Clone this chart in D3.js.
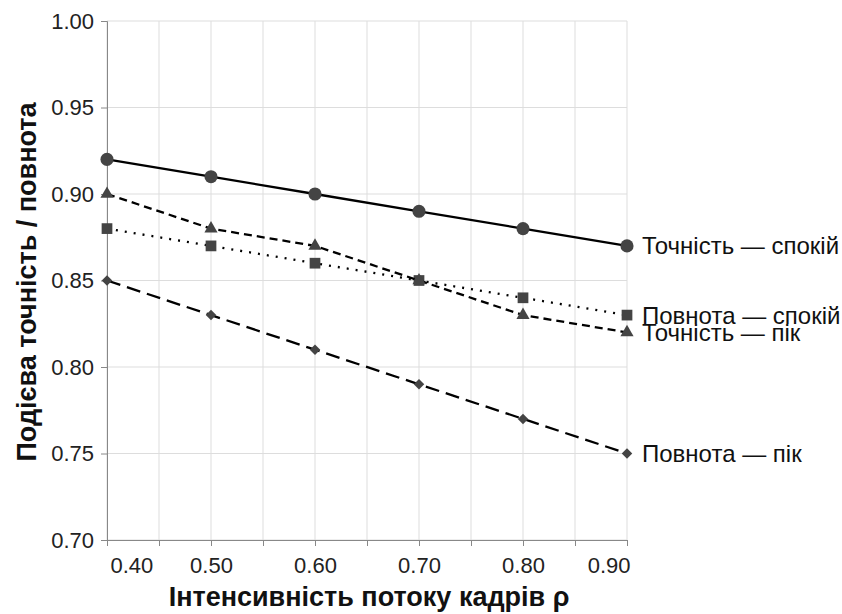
<!DOCTYPE html>
<html>
<head>
<meta charset="utf-8">
<script src="https://cdn.jsdelivr.net/npm/d3@7"></script>
<style>
  body { margin: 0; background: #fff; }
  svg { font-family: "Liberation Sans", Arial, sans-serif; }
</style>
</head>
<body>
<svg id="chart" width="842" height="614"></svg>
<script>
// Frame rate levels (ρ)
const rho = [0.40, 0.50, 0.60, 0.70, 0.80, 0.90];

// Series values
const precisionCalm = [0.92, 0.91, 0.90, 0.89, 0.88, 0.87];
const precisionPeak = [0.90, 0.88, 0.87, 0.85, 0.83, 0.82];
const recallCalm    = [0.88, 0.87, 0.86, 0.85, 0.84, 0.83];
const recallPeak    = [0.85, 0.83, 0.81, 0.79, 0.77, 0.75];

const seriesNames = ["Точність — спокій", "Повнота — спокій", "Точність — пік", "Повнота — пік"];
const xTickLabels = ["0.40", "0.50", "0.60", "0.70", "0.80", "0.90"];
const yTickLabels = ["0.70", "0.75", "0.80", "0.85", "0.90", "0.95", "1.00"];

const series = [
  { name: seriesNames[0], values: precisionCalm, symbol: d3.symbolCircle,   size: 135, rot: 0,  dash: null },
  { name: seriesNames[1], values: recallCalm,    symbol: d3.symbolSquare,   size: 115, rot: 0,  dash: "2,7" },
  { name: seriesNames[2], values: precisionPeak, symbol: d3.symbolTriangle, size: 75,  rot: 0,  dash: "8,5" },
  { name: seriesNames[3], values: recallPeak,    symbol: d3.symbolSquare,   size: 55,  rot: 45, dash: "14,7" }
];

const svg = d3.select("#chart");
const m = { left: 107, right: 627, top: 21, bottom: 540 };

const x = d3.scaleLinear().domain([0.4, 0.9]).range([m.left, m.right]);
const y = d3.scaleLinear().domain([0.7, 1.0]).range([m.bottom, m.top]);

const xGrid = d3.range(0.40, 0.9001, 0.05);
const yGrid = yTickLabels.map(Number);

// grid
const g = svg.append("g");
g.selectAll(".vg").data(xGrid).join("line")
  .attr("x1", d => x(d)).attr("x2", d => x(d))
  .attr("y1", m.top).attr("y2", m.bottom)
  .attr("stroke", "#ddd").attr("stroke-width", 1);
g.selectAll(".hg").data(yGrid).join("line")
  .attr("x1", m.left).attr("x2", m.right)
  .attr("y1", d => y(d)).attr("y2", d => y(d))
  .attr("stroke", "#ddd").attr("stroke-width", 1);

// x axis
const xAxis = d3.axisBottom(x).tickValues(xGrid).tickSize(6)
  .tickFormat(d => {
    const s = d3.format(".2f")(d);
    return xTickLabels.includes(s) ? s : "";
  });
const xa = svg.append("g").attr("transform", `translate(0,${m.bottom})`).call(xAxis);
xa.select(".domain").attr("stroke", "#888");
xa.selectAll(".tick line").attr("stroke", "#888");
xa.selectAll(".tick text")
  .attr("font-size", 22).attr("fill", "#222").attr("y", 33).attr("dy", 0)
  .attr("text-anchor", (d, i, n) => i === 0 ? "start" : (i === n.length - 1 ? "end" : "middle"))
  .attr("dx", (d, i, n) => i === 0 ? 3 : (i === n.length - 1 ? 3 : 0));

// y axis
const yAxis = d3.axisLeft(y).tickValues(yGrid).tickSize(6).tickFormat(d3.format(".2f"));
const ya = svg.append("g").attr("transform", `translate(${m.left},0)`).call(yAxis);
ya.select(".domain").attr("stroke", "#888");
ya.selectAll(".tick line").attr("stroke", "#888");
ya.selectAll(".tick text").attr("font-size", 22).attr("fill", "#222").attr("x", -13);

// axis titles
svg.append("text")
  .attr("x", 369).attr("y", 606)
  .attr("text-anchor", "middle").attr("font-size", 27).attr("font-weight", "bold")
  .attr("fill", "#111")
  .text("Інтенсивність потоку кадрів ρ");
svg.append("text")
  .attr("transform", `translate(36,282) rotate(-90)`)
  .attr("text-anchor", "middle").attr("font-size", 27).attr("font-weight", "bold")
  .attr("fill", "#111")
  .text("Подієва точність / повнота");

// lines, markers and end labels
const line = d3.line().x((d, i) => x(rho[i])).y(d => y(d));
series.forEach(s => {
  svg.append("path").datum(s.values)
    .attr("d", line).attr("fill", "none")
    .attr("stroke", "#000").attr("stroke-width", 2.3)
    .attr("stroke-dasharray", s.dash);
  svg.append("g").selectAll("path").data(s.values).join("path")
    .attr("transform", (d, i) => `translate(${x(rho[i])},${y(d)}) rotate(${s.rot})`)
    .attr("d", d3.symbol().type(s.symbol).size(s.size))
    .attr("fill", "#444");
  const last = s.values[s.values.length - 1];
  svg.append("text")
    .attr("x", x(rho[rho.length - 1]) + 15).attr("y", y(last))
    .attr("dy", "0.35em").attr("font-size", 24).attr("fill", "#111")
    .text(s.name);
});
</script>
</body>
</html>
